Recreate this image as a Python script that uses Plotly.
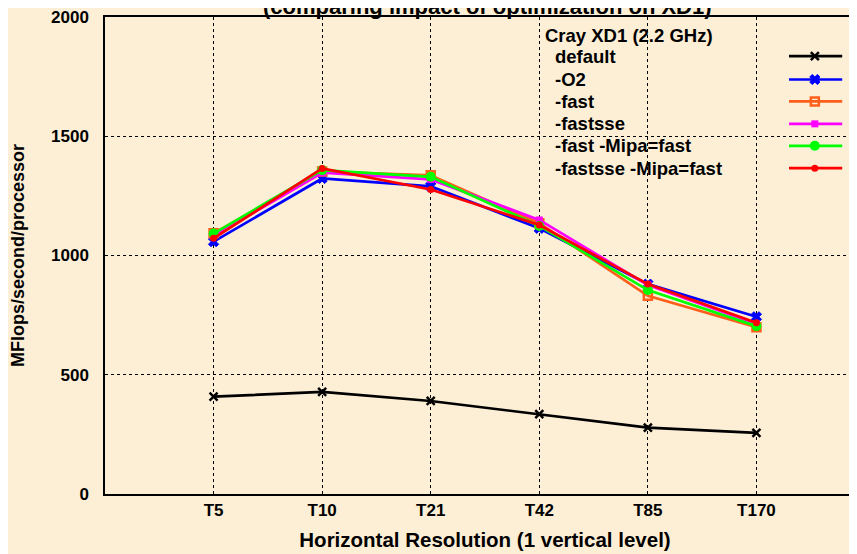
import plotly.graph_objects as go

categories = ["T5", "T10", "T21", "T42", "T85", "T170"]
x_pos = [1, 2, 3, 4, 5, 6]

series_names = ["default", "-O2", "-fast", "-fastsse", "-fast -Mipa=fast", "-fastsse -Mipa=fast"]
default_vals = [408, 428, 390, 335, 278, 256]
o2_vals = [1058, 1323, 1290, 1114, 880, 743]
fast_vals = [1093, 1352, 1336, 1135, 831, 699]
fastsse_vals = [1082, 1347, 1319, 1149, 876, 713]
fast_ipa_vals = [1092, 1358, 1330, 1124, 855, 704]
fastsse_ipa_vals = [1072, 1365, 1277, 1128, 880, 718]

colors = ["#000000", "#0000FF", "#FF5F1A", "#FF00FF", "#00FF00", "#FF0000"]
symbols = ["x-thin", "x", "square-open", "square", "circle", "circle"]
msizes = [8, 9, 8, 7, 10, 7]
mlw = [2.5, 1, 2.5, 0, 0, 0]

all_vals = [default_vals, o2_vals, fast_vals, fastsse_vals, fast_ipa_vals, fastsse_ipa_vals]

bg = "#FCEFD6"
fnt = "Liberation Sans, Arial, sans-serif"

fig = go.Figure()
for name, vals, c, s, ms, lw in zip(series_names, all_vals, colors, symbols, msizes, mlw):
    fig.add_trace(go.Scatter(
        x=x_pos, y=vals, mode="lines+markers", name=name,
        line=dict(color=c, width=2.7),
        marker=dict(symbol=s, size=ms, color=c, line=dict(color=c, width=lw)),
        showlegend=False, xaxis="x", yaxis="y"))

# legend samples on an overlay axis in unit coordinates
leg_y = [0.918, 0.869, 0.823, 0.776, 0.730, 0.683]
for name, c, s, ms, lw, ly in zip(series_names, colors, symbols, msizes, mlw, leg_y):
    fig.add_trace(go.Scatter(
        x=[0.900, 0.934, 0.970], y=[ly, ly, ly], mode="lines",
        line=dict(color=c, width=2.7), showlegend=False, hoverinfo="skip",
        xaxis="x2", yaxis="y2"))
    fig.add_trace(go.Scatter(
        x=[0.934], y=[ly], mode="markers",
        marker=dict(symbol=s, size=ms, color=c, line=dict(color=c, width=lw)),
        showlegend=False, hoverinfo="skip", xaxis="x2", yaxis="y2"))
    fig.add_annotation(x=0.5895, y=ly, xref="x2", yref="y2", text=name, showarrow=False,
                       xanchor="left", yanchor="middle",
                       font=dict(family=fnt, size=18.5, color="black", weight="bold"))

fig.add_annotation(x=0.5763, y=0.962, xref="x2", yref="y2", text="Cray XD1 (2.2 GHz)",
                   showarrow=False, xanchor="left", yanchor="middle",
                   font=dict(family=fnt, size=18.5, color="black", weight="bold"))

fig.add_annotation(x=0.503, y=1.021, xref="paper", yref="paper",
                   text="(comparing impact of optimization on XD1)", showarrow=False,
                   xanchor="center", yanchor="middle",
                   font=dict(family=fnt, size=22, color="black", weight="bold"))

fig.update_layout(
    width=857, height=554,
    margin=dict(l=97, r=0, t=9, b=68),
    paper_bgcolor=bg, plot_bgcolor=bg,
    font=dict(family=fnt, size=15, color="black"),
    xaxis=dict(range=[0, 7.0], tickvals=x_pos, ticktext=categories,
               showgrid=True, gridcolor="black", griddash="dot", gridwidth=1,
               showline=True, linecolor="black", linewidth=1.5, mirror=True,
               ticks="", zeroline=False, automargin=False,
               tickfont=dict(family=fnt, size=17, weight="bold"),
               title=dict(text="Horizontal Resolution (1 vertical level)",
                          font=dict(family=fnt, size=20.5, weight="bold"), standoff=13)),
    yaxis=dict(range=[0, 2000], tickvals=[0, 500, 1000, 1500, 2000],
               showgrid=True, gridcolor="black", griddash="dot", gridwidth=1,
               showline=True, linecolor="black", linewidth=1.5, mirror=True,
               ticks="", zeroline=False, ticklabelstandoff=11, automargin=False,
               ticklabeloverflow="allow",
               tickfont=dict(family=fnt, size=17, weight="bold"),
               title=dict(text="MFlops/second/processor",
                          font=dict(family=fnt, size=18, weight="bold"), standoff=22)),
    xaxis2=dict(range=[0, 1], overlaying="x", visible=False, anchor="y2"),
    yaxis2=dict(range=[0, 1], overlaying="y", visible=False, anchor="x2"),
)

fig.write_html("out.html")
